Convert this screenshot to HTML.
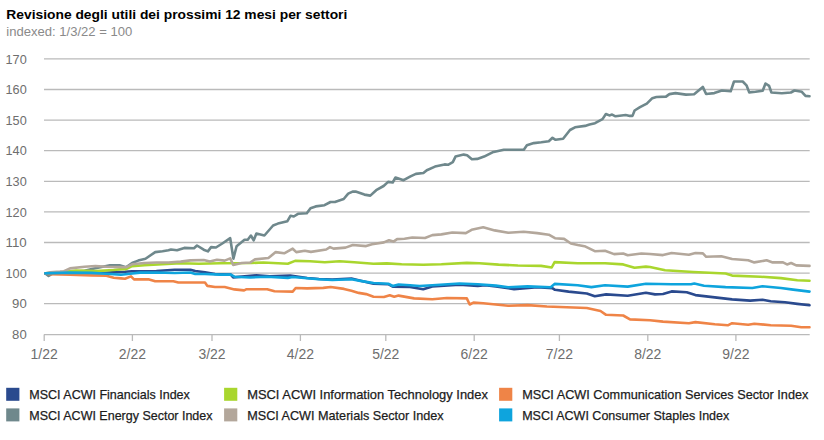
<!DOCTYPE html>
<html><head><meta charset="utf-8"><style>
html,body{margin:0;padding:0;background:#fff;width:824px;height:440px;overflow:hidden}
svg{position:absolute;left:0;top:0}
.ax{font-family:"Liberation Sans",sans-serif;font-size:12.8px;fill:#6e6e6e}
.axx{font-family:"Liberation Sans",sans-serif;font-size:13.9px;fill:#6e6e6e}
.lg{font-family:"Liberation Sans",sans-serif;font-size:13px;fill:#1c1c1c;stroke:#1c1c1c;stroke-width:0.25px}
.t{font-family:"Liberation Sans",sans-serif;font-size:13.4px;font-weight:bold;fill:#000}
.st{font-family:"Liberation Sans",sans-serif;font-size:13px;fill:#8a8a8a}
</style></head><body>
<svg width="824" height="440" viewBox="0 0 824 440">
<text x="6.3" y="18.9" textLength="341" lengthAdjust="spacingAndGlyphs" class="t">Revisione degli utili dei prossimi 12 mesi per settori</text>
<text x="6.3" y="35.9" textLength="126" lengthAdjust="spacingAndGlyphs" class="st">indexed: 1/3/22 = 100</text>
<line x1="44" x2="809.7" y1="58.90" y2="58.90" stroke="#bababa" stroke-width="1.3"/>
<text x="26.7" y="63.50" text-anchor="end" textLength="21.2" lengthAdjust="spacingAndGlyphs" class="ax">170</text>
<line x1="44" x2="809.7" y1="89.50" y2="89.50" stroke="#bababa" stroke-width="1.3"/>
<text x="26.7" y="94.10" text-anchor="end" textLength="21.2" lengthAdjust="spacingAndGlyphs" class="ax">160</text>
<line x1="44" x2="809.7" y1="120.10" y2="120.10" stroke="#bababa" stroke-width="1.3"/>
<text x="26.7" y="124.70" text-anchor="end" textLength="21.2" lengthAdjust="spacingAndGlyphs" class="ax">150</text>
<line x1="44" x2="809.7" y1="150.70" y2="150.70" stroke="#bababa" stroke-width="1.3"/>
<text x="26.7" y="155.30" text-anchor="end" textLength="21.2" lengthAdjust="spacingAndGlyphs" class="ax">140</text>
<line x1="44" x2="809.7" y1="181.30" y2="181.30" stroke="#bababa" stroke-width="1.3"/>
<text x="26.7" y="185.90" text-anchor="end" textLength="21.2" lengthAdjust="spacingAndGlyphs" class="ax">130</text>
<line x1="44" x2="809.7" y1="211.90" y2="211.90" stroke="#bababa" stroke-width="1.3"/>
<text x="26.7" y="216.50" text-anchor="end" textLength="21.2" lengthAdjust="spacingAndGlyphs" class="ax">120</text>
<line x1="44" x2="809.7" y1="242.50" y2="242.50" stroke="#bababa" stroke-width="1.3"/>
<text x="26.7" y="247.10" text-anchor="end" textLength="21.2" lengthAdjust="spacingAndGlyphs" class="ax">110</text>
<line x1="44" x2="809.7" y1="273.10" y2="273.10" stroke="#bababa" stroke-width="1.3"/>
<text x="26.7" y="277.70" text-anchor="end" textLength="21.2" lengthAdjust="spacingAndGlyphs" class="ax">100</text>
<line x1="44" x2="809.7" y1="303.70" y2="303.70" stroke="#bababa" stroke-width="1.3"/>
<text x="26.7" y="308.30" text-anchor="end" textLength="14.6" lengthAdjust="spacingAndGlyphs" class="ax">90</text>
<line x1="44" x2="809.7" y1="334.6" y2="334.6" stroke="#bababa" stroke-width="1.3"/>
<text x="26.7" y="338.90" text-anchor="end" textLength="14.6" lengthAdjust="spacingAndGlyphs" class="ax">80</text>
<line x1="44.2" x2="44.2" y1="334.6" y2="341" stroke="#bababa" stroke-width="1.3"/>
<text x="30.6" y="358.7" textLength="27.2" lengthAdjust="spacingAndGlyphs" class="axx">1/22</text>
<line x1="132.4" x2="132.4" y1="334.6" y2="341" stroke="#bababa" stroke-width="1.3"/>
<text x="118.8" y="358.7" textLength="27.2" lengthAdjust="spacingAndGlyphs" class="axx">2/22</text>
<line x1="212.0" x2="212.0" y1="334.6" y2="341" stroke="#bababa" stroke-width="1.3"/>
<text x="198.4" y="358.7" textLength="27.2" lengthAdjust="spacingAndGlyphs" class="axx">3/22</text>
<line x1="300.4" x2="300.4" y1="334.6" y2="341" stroke="#bababa" stroke-width="1.3"/>
<text x="286.8" y="358.7" textLength="27.2" lengthAdjust="spacingAndGlyphs" class="axx">4/22</text>
<line x1="385.8" x2="385.8" y1="334.6" y2="341" stroke="#bababa" stroke-width="1.3"/>
<text x="372.2" y="358.7" textLength="27.2" lengthAdjust="spacingAndGlyphs" class="axx">5/22</text>
<line x1="474.2" x2="474.2" y1="334.6" y2="341" stroke="#bababa" stroke-width="1.3"/>
<text x="460.6" y="358.7" textLength="27.2" lengthAdjust="spacingAndGlyphs" class="axx">6/22</text>
<line x1="559.4" x2="559.4" y1="334.6" y2="341" stroke="#bababa" stroke-width="1.3"/>
<text x="545.8" y="358.7" textLength="27.2" lengthAdjust="spacingAndGlyphs" class="axx">7/22</text>
<line x1="647.8" x2="647.8" y1="334.6" y2="341" stroke="#bababa" stroke-width="1.3"/>
<text x="634.2" y="358.7" textLength="27.2" lengthAdjust="spacingAndGlyphs" class="axx">8/22</text>
<line x1="735.9" x2="735.9" y1="334.6" y2="341" stroke="#bababa" stroke-width="1.3"/>
<text x="722.3" y="358.7" textLength="27.2" lengthAdjust="spacingAndGlyphs" class="axx">9/22</text>
<path d="M45.3,273.4 L100.0,273.3 L112.2,272.2 L125.0,271.8 L132.0,271.3 L156.4,271.0 L174.6,269.7 L190.4,269.7 L195.2,271.0 L205.0,272.2 L215.0,274.0 L230.8,274.6 L233.2,277.4 L256.3,275.4 L269.6,276.4 L290.2,275.6 L307.2,278.0 L318.9,279.0 L332.2,279.5 L351.4,278.6 L361.7,281.1 L373.5,283.7 L388.3,284.2 L392.7,286.7 L410.0,287.0 L423.2,289.3 L432.3,286.5 L459.5,284.7 L477.7,286.0 L485.1,285.2 L495.9,286.5 L514.1,289.1 L537.2,287.2 L552.7,288.3 L555.0,289.8 L568.6,291.6 L586.8,293.5 L594.8,296.2 L606.1,294.4 L627.7,295.7 L645.9,292.8 L655.0,294.4 L663.0,294.0 L671.6,291.4 L686.7,292.3 L695.4,295.1 L708.3,296.6 L719.1,297.9 L732.1,299.4 L750.2,300.6 L762.5,299.8 L770.7,301.2 L785.0,302.3 L797.3,303.9 L809.5,305.3" fill="none" stroke="#2a4a8e" stroke-width="2.6" stroke-linejoin="round" stroke-linecap="round"/>
<path d="M45.3,273.4 L48.6,276.0 L52.0,273.8 L60.0,272.5 L72.0,272.0 L84.6,270.7 L91.8,269.0 L110.0,265.3 L119.5,265.3 L126.0,267.3 L132.1,263.0 L138.2,260.6 L145.5,258.8 L155.2,252.1 L162.5,251.2 L168.5,250.3 L171.0,249.5 L177.0,250.3 L184.3,247.9 L194.0,248.3 L197.0,245.5 L203.7,249.7 L207.9,251.4 L211.1,247.1 L215.9,247.5 L222.3,243.5 L230.2,238.2 L233.4,258.6 L236.6,246.2 L244.5,239.8 L247.7,239.8 L250.9,235.5 L253.7,240.3 L256.4,233.5 L264.4,235.5 L273.1,225.5 L277.9,223.6 L287.4,221.2 L290.6,215.7 L293.8,216.5 L298.0,213.8 L306.8,213.3 L310.5,208.2 L315.7,206.4 L324.5,205.2 L330.5,202.0 L334.9,202.0 L343.7,199.0 L348.2,193.7 L352.6,191.6 L355.6,191.6 L364.4,194.6 L370.3,195.6 L376.2,190.2 L383.6,186.0 L388.1,181.9 L392.7,182.5 L395.5,177.5 L403.6,180.2 L410.5,176.4 L415.9,173.9 L423.4,173.0 L426.8,170.2 L435.0,166.6 L444.6,164.4 L448.0,164.8 L452.8,162.1 L455.5,156.6 L463.7,154.6 L467.1,155.2 L471.9,159.3 L477.3,158.9 L484.1,156.6 L492.5,152.3 L503.8,149.8 L523.8,149.8 L526.9,145.3 L533.8,143.1 L541.3,142.3 L548.8,141.3 L552.5,137.8 L555.6,139.8 L563.1,138.8 L570.0,130.0 L575.0,127.3 L585.0,125.9 L589.5,124.5 L595.0,123.2 L602.5,119.1 L605.9,114.0 L609.3,115.4 L612.1,114.6 L615.5,116.3 L625.7,115.0 L629.8,115.9 L632.5,115.9 L634.6,110.5 L640.0,107.2 L646.8,103.7 L652.3,98.2 L656.4,97.0 L666.0,96.6 L669.4,94.1 L675.5,93.1 L685.9,94.6 L694.1,94.2 L702.8,86.9 L706.1,94.0 L714.3,93.1 L721.9,90.5 L730.7,91.3 L734.0,81.5 L742.7,81.5 L746.5,85.3 L749.2,92.4 L755.5,91.8 L762.7,90.7 L765.5,83.5 L769.1,85.9 L771.4,92.5 L781.8,93.2 L790.9,92.5 L794.5,90.5 L801.8,91.8 L805.5,95.9 L809.5,96.2" fill="none" stroke="#6f888c" stroke-width="2.6" stroke-linejoin="round" stroke-linecap="round"/>
<path d="M45.3,273.4 L60.0,272.4 L75.8,270.6 L95.5,271.1 L113.7,270.0 L122.0,269.1 L126.0,269.1 L132.0,266.1 L144.3,265.2 L162.5,264.3 L180.7,263.3 L198.9,263.7 L220.0,263.3 L251.4,263.0 L263.5,262.5 L287.8,263.7 L295.1,260.9 L310.0,261.3 L324.8,262.3 L339.5,261.3 L354.3,262.3 L373.5,263.8 L386.8,263.4 L401.6,264.2 L423.2,264.7 L441.4,264.2 L466.8,262.9 L479.3,263.2 L498.6,264.6 L517.9,265.5 L541.1,265.9 L551.7,267.5 L554.6,262.1 L577.7,263.2 L605.0,263.2 L623.2,264.4 L634.5,267.8 L645.9,266.6 L650.0,267.0 L665.1,270.2 L693.2,272.0 L725.6,273.5 L732.1,275.6 L760.4,276.7 L780.9,278.1 L797.3,280.2 L809.5,280.8" fill="none" stroke="#a9d62e" stroke-width="2.6" stroke-linejoin="round" stroke-linecap="round"/>
<path d="M45.3,273.4 L50.0,272.3 L60.0,271.6 L64.0,271.2 L70.0,268.4 L84.6,266.7 L95.5,266.0 L106.4,266.7 L121.0,267.1 L126.0,267.3 L132.0,264.3 L144.3,263.0 L156.4,262.5 L168.5,262.5 L180.7,261.6 L190.4,260.4 L203.7,260.0 L209.8,261.6 L217.0,259.7 L224.7,260.6 L230.2,258.4 L233.2,264.9 L241.7,263.0 L250.2,262.5 L255.0,259.4 L268.4,258.0 L275.7,252.1 L284.2,253.3 L292.7,248.7 L296.3,252.1 L304.8,250.7 L310.9,251.9 L326.2,249.5 L330.0,247.1 L333.6,248.6 L345.5,247.6 L352.8,245.0 L366.1,246.1 L372.0,244.2 L383.9,242.4 L389.0,240.2 L393.5,241.6 L397.1,239.1 L404.5,238.7 L412.3,237.5 L425.0,238.0 L432.3,235.1 L441.4,234.4 L452.3,232.5 L465.8,233.1 L471.6,229.8 L483.2,227.3 L494.7,230.4 L508.3,232.7 L523.7,231.8 L537.2,233.1 L548.8,234.7 L555.0,238.2 L564.1,238.9 L570.9,243.5 L577.7,245.0 L584.5,246.2 L594.8,251.2 L605.0,250.7 L614.1,254.1 L623.2,253.5 L627.7,255.3 L641.4,253.5 L650.0,254.0 L663.0,255.1 L671.6,253.0 L688.9,254.7 L695.4,253.0 L702.9,253.4 L706.2,256.8 L721.3,256.2 L732.1,259.0 L748.2,260.3 L754.3,262.4 L766.6,260.3 L772.7,262.4 L783.0,262.4 L787.0,264.4 L791.1,263.0 L796.2,265.4 L809.5,265.9" fill="none" stroke="#b3a79b" stroke-width="2.6" stroke-linejoin="round" stroke-linecap="round"/>
<path d="M45.3,273.4 L50.0,274.3 L60.0,274.5 L70.0,274.8 L91.8,275.5 L106.4,275.8 L113.7,277.7 L121.0,278.4 L125.0,278.7 L131.0,276.4 L134.0,279.4 L149.1,279.4 L155.2,281.3 L173.4,281.3 L178.3,282.5 L205.0,282.5 L207.4,285.9 L215.0,287.0 L224.7,287.0 L234.4,289.4 L244.1,290.4 L246.6,289.2 L267.2,289.2 L274.5,291.2 L292.7,291.6 L295.7,288.0 L307.2,288.4 L323.3,287.9 L330.7,287.0 L344.0,288.9 L351.4,290.8 L358.7,292.9 L366.1,294.1 L373.5,296.7 L383.9,297.0 L389.8,295.3 L394.2,296.7 L398.6,295.6 L414.1,298.4 L432.3,299.3 L446.8,298.0 L466.8,298.4 L469.7,304.5 L473.5,302.6 L483.2,303.2 L508.3,305.7 L527.6,305.1 L546.9,306.5 L560.0,307.0 L586.8,308.0 L600.5,311.0 L606.1,314.8 L623.2,315.5 L630.0,319.4 L650.0,320.3 L663.0,321.6 L688.9,323.2 L695.4,322.1 L714.8,324.2 L727.8,325.3 L732.1,323.2 L748.2,324.8 L754.3,323.7 L770.7,325.2 L791.1,325.8 L801.3,327.2 L809.5,327.2" fill="none" stroke="#ef8447" stroke-width="2.6" stroke-linejoin="round" stroke-linecap="round"/>
<path d="M45.3,273.4 L70.0,272.6 L91.8,272.9 L106.4,273.7 L121.0,274.8 L130.0,273.8 L140.0,272.6 L156.4,272.5 L174.6,273.0 L190.4,272.5 L195.2,274.0 L205.0,274.0 L220.0,274.6 L230.8,274.6 L234.4,276.7 L250.2,277.5 L267.2,276.7 L287.8,277.9 L292.7,277.0 L307.2,278.3 L318.9,279.3 L332.2,280.0 L351.4,279.3 L361.7,281.1 L373.5,283.0 L388.3,283.7 L392.7,286.0 L398.6,284.5 L410.0,285.2 L419.5,286.0 L432.3,285.3 L459.5,283.5 L477.7,284.2 L495.9,285.6 L508.3,287.2 L527.6,286.4 L550.7,287.2 L554.6,283.9 L577.7,285.3 L591.4,287.1 L605.0,285.3 L627.7,286.6 L645.9,283.7 L671.6,284.3 L691.0,284.3 L694.3,283.6 L704.0,285.8 L725.6,287.1 L752.3,288.0 L762.5,286.3 L780.9,288.0 L793.2,289.6 L809.5,291.6" fill="none" stroke="#0ea4dd" stroke-width="2.6" stroke-linejoin="round" stroke-linecap="round"/>
<rect x="6.2" y="387.8" width="13.2" height="13" fill="#2a4a8e"/>
<text x="29.3" y="399.0" textLength="160.5" lengthAdjust="spacingAndGlyphs" class="lg">MSCI ACWI Financials Index</text>
<rect x="6.2" y="408.4" width="13.2" height="13" fill="#6f888c"/>
<text x="29.3" y="419.59999999999997" textLength="183.2" lengthAdjust="spacingAndGlyphs" class="lg">MSCI ACWI Energy Sector Index</text>
<rect x="224.1" y="387.8" width="13.2" height="13" fill="#a9d62e"/>
<text x="247.2" y="399.0" textLength="240.7" lengthAdjust="spacingAndGlyphs" class="lg">MSCI ACWI Information Technology Index</text>
<rect x="224.1" y="408.4" width="13.2" height="13" fill="#b3a79b"/>
<text x="247.2" y="419.59999999999997" textLength="196.5" lengthAdjust="spacingAndGlyphs" class="lg">MSCI ACWI Materials Sector Index</text>
<rect x="499.1" y="387.8" width="13.2" height="13" fill="#ef8447"/>
<text x="522.2" y="399.0" textLength="286.2" lengthAdjust="spacingAndGlyphs" class="lg">MSCI ACWI Communication Services Sector Index</text>
<rect x="499.1" y="408.4" width="13.2" height="13" fill="#0ea4dd"/>
<text x="522.2" y="419.59999999999997" textLength="207.1" lengthAdjust="spacingAndGlyphs" class="lg">MSCI ACWI Consumer Staples Index</text>
</svg>
</body></html>
